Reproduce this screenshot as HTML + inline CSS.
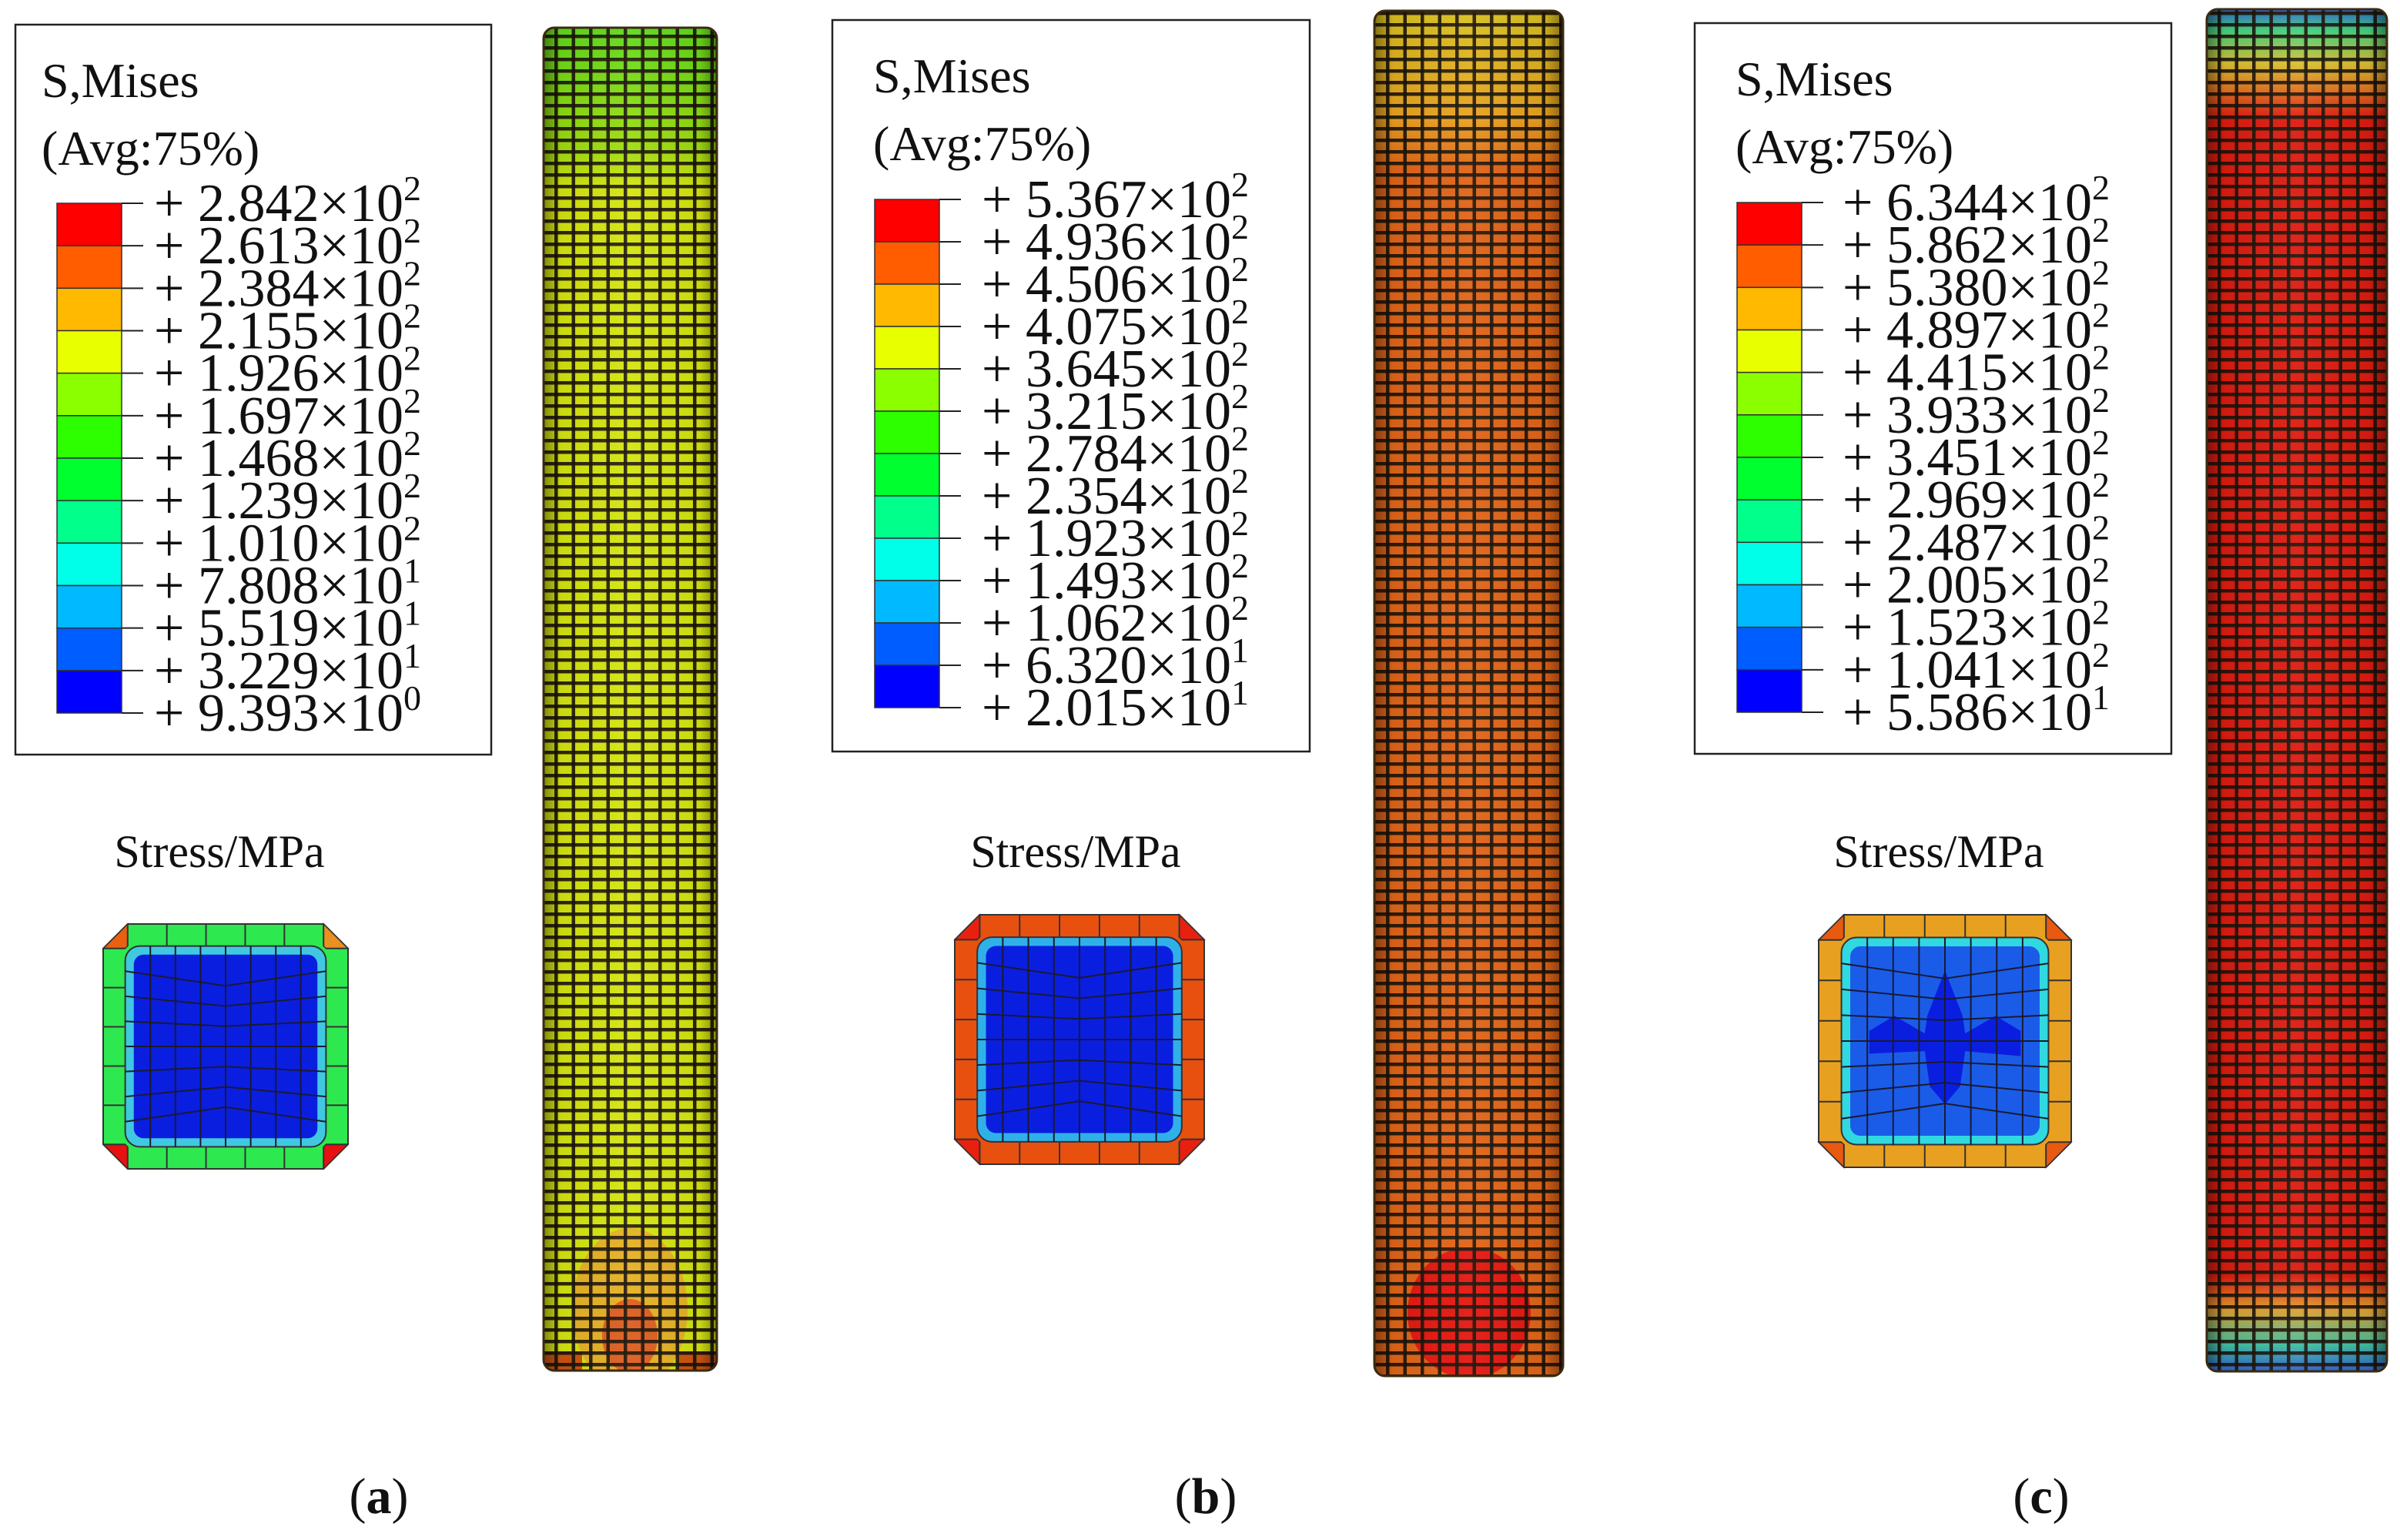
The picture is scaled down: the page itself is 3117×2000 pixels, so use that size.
<!DOCTYPE html>
<html><head><meta charset="utf-8"><style>
html,body{margin:0;padding:0;background:#fff;overflow:hidden;}
svg{display:block;font-family:"Liberation Serif",serif;}
</style></head><body>
<svg id="fig" width="3117" height="2000" viewBox="0 0 3117 2000" xmlns="http://www.w3.org/2000/svg">
<defs>
<pattern id="mesh" width="22.5" height="15" patternUnits="userSpaceOnUse">
<rect x="0" y="0" width="22.5" height="4.5" fill="#1a1208" opacity="0.9"/>
<rect x="0" y="0" width="4.5" height="15" fill="#1a1208" opacity="0.9"/>
</pattern>
<linearGradient id="shade" x1="0" x2="1" y1="0" y2="0">
<stop offset="0" stop-color="#000" stop-opacity="0.4"/>
<stop offset="0.1" stop-color="#000" stop-opacity="0.05"/>
<stop offset="0.5" stop-color="#fff" stop-opacity="0.05"/>
<stop offset="0.9" stop-color="#000" stop-opacity="0.05"/>
<stop offset="1" stop-color="#000" stop-opacity="0.4"/>
</linearGradient>
<linearGradient id="gradA" x1="0" x2="0" y1="0" y2="1">
<stop offset="0" stop-color="#5fd81a"/><stop offset="0.09" stop-color="#9fdc10"/><stop offset="0.12" stop-color="#d4e410"/><stop offset="1" stop-color="#d4e410"/>
</linearGradient>
<linearGradient id="gradB" x1="0" x2="0" y1="0" y2="1">
<stop offset="0" stop-color="#d8c020"/><stop offset="0.08" stop-color="#e8a020"/><stop offset="0.115" stop-color="#e06418"/><stop offset="1" stop-color="#e06418"/>
</linearGradient>
<linearGradient id="gradC" x1="0" x2="0" y1="0" y2="1">
<stop offset="0" stop-color="#3060d0"/><stop offset="0.015" stop-color="#40d080"/><stop offset="0.04" stop-color="#d8c030"/><stop offset="0.06" stop-color="#e07020"/><stop offset="0.08" stop-color="#dc1c10"/>
<stop offset="0.93" stop-color="#dc1c10"/><stop offset="0.955" stop-color="#e0a030"/><stop offset="0.98" stop-color="#40c0a0"/><stop offset="1" stop-color="#3060d0"/>
</linearGradient>
</defs>
</svg>
<script>
const svgNS="http://www.w3.org/2000/svg";
const fig=document.getElementById('fig');
const colors=["#FF0000","#FF5D00","#FFB900","#E8FF00","#8BFF00","#2EFF00","#00FF2E","#00FF8B","#00FFE8","#00B9FF","#005DFF","#0000FF"];
const labelsA=["2.842","2.613","2.384","2.155","1.926","1.697","1.468","1.239","1.010","7.808","5.519","3.229","9.393"];
const expA=["2","2","2","2","2","2","2","2","2","1","1","1","0"];
const labelsB=["5.367","4.936","4.506","4.075","3.645","3.215","2.784","2.354","1.923","1.493","1.062","6.320","2.015"];
const expB=["2","2","2","2","2","2","2","2","2","2","2","1","1"];
const labelsC=["6.344","5.862","5.380","4.897","4.415","3.933","3.451","2.969","2.487","2.005","1.523","1.041","5.586"];
const expC=["2","2","2","2","2","2","2","2","2","2","2","2","1"];

function el(tag,attrs,parent){const e=document.createElementNS(svgNS,tag);for(const k in attrs)e.setAttribute(k,attrs[k]);(parent||fig).appendChild(e);return e;}

function legend(id,box,tx,bar,lx,labels,exps){
  const g=el('g',{});
  
  
  const r=el('rect',{x:box[0],y:box[1],width:box[2],height:box[3],fill:'#fff',stroke:'#222','stroke-width':2.5},g);
  
  
  const t1=el('text',{x:tx,y:box[1]+94,'font-size':64,fill:'#111'},g);t1.textContent='S,Mises';
  
  
  const t2=el('text',{x:tx,y:box[1]+182,'font-size':64,fill:'#111'},g);t2.textContent='(Avg:75%)';
  
  
  const [bx,by,bw,bh]=bar;const step=bh/colors.length;
  colors.forEach((c,i)=>{
    const b=el('rect',{x:bx,y:by+i*step,width:bw,height:step,fill:c,stroke:'#333','stroke-width':1.5},g);
    
    
  });
  labels.forEach((l,i)=>{
    const y=by+i*step;
    el('line',{x1:bx+bw,x2:bx+bw+28,y1:y,y2:y,stroke:'#222','stroke-width':2},g);
    const t=el('text',{x:lx,y:y+23,'font-size':70,fill:'#111'},g);
    
    
    t.appendChild(document.createTextNode('+ '+l+'\u00d710'));
    const s=el('tspan',{dy:-27,'font-size':46},t);s.textContent=exps[i];
  });
}
legend('a',[20,32,618,948],54,[74,264,84,662],200,labelsA,expA);
legend('b',[1081,26,620,950],1134,[1136,259,84,660],1275,labelsB,expB);
legend('c',[2201,30,619,949],2254,[2256,263,84,662],2393,labelsC,expC);

[[285,'a'],[1397,'b'],[2518,'c']].forEach(([x,id])=>{
  const t=el('text',{x:x,y:1126,'font-size':60,'text-anchor':'middle',fill:'#111'});
  t.textContent='Stress/MPa';
  
  
});

let clipN=0;
function column(id,x,y,w,h,grad,extra){
  const g=el('g',{});
  
  
  const cp=el('clipPath',{id:'cp'+(++clipN)},g);
  el('rect',{x:x,y:y,width:w,height:h,rx:14},cp);
  const inner=el('g',{'clip-path':'url(#cp'+clipN+')'},g);
  el('rect',{x:x,y:y,width:w,height:h,fill:'url(#'+grad+')'},inner);
  if(extra)extra(inner);
  el('rect',{x:x,y:y,width:w,height:h,fill:'url(#mesh)'},inner);
  el('rect',{x:x,y:y,width:w,height:h,fill:'url(#shade)'},inner);
  el('rect',{x:x,y:y,width:w,height:h,rx:14,fill:'none',stroke:'#3a2a10','stroke-width':3},g);
}
column('a',706,36,225,1744,'gradA',g=>{
  el('ellipse',{cx:818,cy:1700,rx:75,ry:105,fill:'#e8a828',opacity:0.85},g);
  el('ellipse',{cx:818,cy:1735,rx:36,ry:48,fill:'#dc5a20',opacity:0.95},g);
  el('rect',{x:706,y:1755,width:50,height:25,fill:'#c83010',opacity:0.8},g);
  el('rect',{x:881,y:1755,width:50,height:25,fill:'#c83010',opacity:0.8},g);
});
column('b',1785,14,245,1773,'gradB',g=>{
  el('ellipse',{cx:1908,cy:1705,rx:80,ry:85,fill:'#e41810'},g);
});
column('c',2866,12,234,1769,'gradC');

function section(id,x,y,s,ring,corners,band,cross){
  const g=el('g',{});
  
  
  const c=s*0.1, t=s*0.09;
  const oct=(x0,y0,w,k)=>`${x0+k},${y0} ${x0+w-k},${y0} ${x0+w},${y0+k} ${x0+w},${y0+w-k} ${x0+w-k},${y0+w} ${x0+k},${y0+w} ${x0},${y0+w-k} ${x0},${y0+k}`;
  el('polygon',{points:oct(x,y,s,c),fill:ring,stroke:'#333','stroke-width':2},g);
  const X2=x+s,Y2=y+s;
  const cornerPolys=[
    `${x},${y+c} ${x+c},${y} ${x+c},${y+t} ${x+t},${y+c}`,
    `${X2},${y+c} ${X2-c},${y} ${X2-c},${y+t} ${X2-t},${y+c}`,
    `${x},${Y2-c} ${x+c},${Y2} ${x+c},${Y2-t} ${x+t},${Y2-c}`,
    `${X2},${Y2-c} ${X2-c},${Y2} ${X2-c},${Y2-t} ${X2-t},${Y2-c}`];
  cornerPolys.forEach((p,i)=>el('polygon',{points:p,fill:corners[i],stroke:'#333','stroke-width':1.5},g));
  el('rect',{x:x+t,y:y+t,width:s-2*t,height:s-2*t,rx:s*0.06,fill:band,stroke:'#333','stroke-width':2},g);
  const t2=s*0.125;
  el('rect',{x:x+t2,y:y+t2,width:s-2*t2,height:s-2*t2,rx:s*0.04,fill:cross?'#1a5ce8':'#0a1ee0'},g);
  if(cross){
    const cx=x+s/2,cy=y+s/2;
    el('polygon',{points:`${cx},${cy-s*0.28} ${cx+s*0.07},${cy-s*0.1} ${cx+s*0.08},${cy-s*0.03} ${cx+s*0.2},${cy-s*0.1} ${cx+s*0.3},${cy-s*0.04} ${cx+s*0.3},${cy+s*0.06} ${cx+s*0.08},${cy+s*0.04} ${cx+s*0.06},${cy+s*0.18} ${cx},${cy+s*0.25} ${cx-s*0.06},${cy+s*0.18} ${cx-s*0.08},${cy+s*0.04} ${cx-s*0.3},${cy+s*0.05} ${cx-s*0.3},${cy-s*0.04} ${cx-s*0.2},${cy-s*0.1} ${cx-s*0.08},${cy-s*0.03} ${cx-s*0.07},${cy-s*0.1}`,fill:'#0a1ee0'},g);
  }
  for(let i=1;i<8;i++){const xx=x+t+i*(s-2*t)/8;el('line',{x1:xx,x2:xx,y1:y+t,y2:y+s-t,stroke:'#1a1a30','stroke-width':2},g);}
  for(let j=1;j<8;j++){const yy=y+t+j*(s-2*t)/8;const d=(4-j)*s*0.02;
    el('polyline',{points:`${x+t},${yy} ${x+s/2},${yy+d} ${x+s-t},${yy}`,fill:'none',stroke:'#1a1a30','stroke-width':2},g);}
  for(let i=0;i<=5;i++){const p=x+c+i*(s-2*c)/5;const q=y+c+i*(s-2*c)/5;
    el('line',{x1:p,x2:p,y1:y,y2:y+t,stroke:'#333','stroke-width':2},g);
    el('line',{x1:p,x2:p,y1:y+s-t,y2:y+s,stroke:'#333','stroke-width':2},g);
    el('line',{x1:x,x2:x+t,y1:q,y2:q,stroke:'#333','stroke-width':2},g);
    el('line',{x1:x+s-t,x2:x+s,y1:q,y2:q,stroke:'#333','stroke-width':2},g);}
}
section('a',134,1200,318,'#2EE850',['#E86010','#E89020','#E81010','#E81010'],'#40c8e0',false);
section('b',1240,1188,324,'#E85010',['#E82010','#E82010','#E82010','#E82010'],'#30b0e8',false);
section('c',2362,1188,328,'#E8A020',['#E85a10','#E85a10','#E85a10','#E85a10'],'#30d8e0',true);

[[492,'a'],[1566,'b'],[2651,'c']].forEach(([x,id])=>{
  const t=el('text',{x:x,y:1965,'font-size':66,'text-anchor':'middle',fill:'#111'});
  
  
  t.appendChild(document.createTextNode('('));
  const b=el('tspan',{'font-weight':'bold'},t);b.textContent=id;
  t.appendChild(document.createTextNode(')'));
});
</script>
</body></html>
